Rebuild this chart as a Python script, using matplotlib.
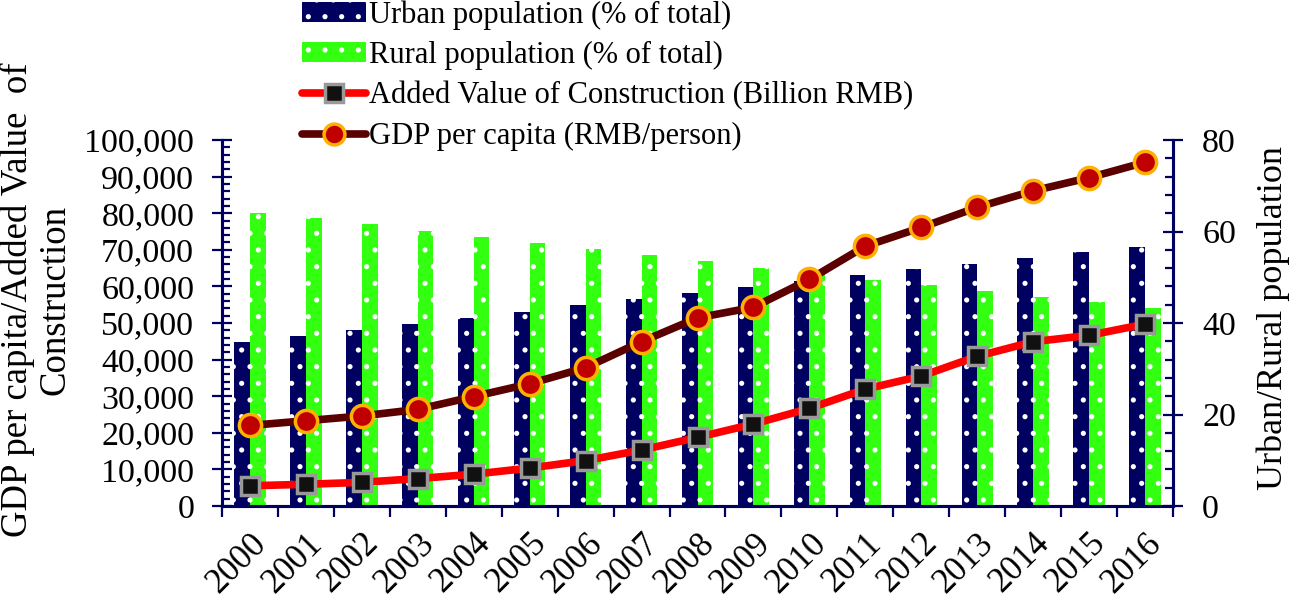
import numpy as np
import matplotlib
matplotlib.use("Agg")
import matplotlib.pyplot as plt
from matplotlib.ticker import MultipleLocator, FuncFormatter
from matplotlib.lines import Line2D
from matplotlib.patches import Patch

years = [str(y) for y in range(2000, 2017)]
urban = [35.9, 37.1, 38.4, 39.8, 41.1, 42.5, 43.9, 45.2, 46.5, 47.9,
         49.2, 50.5, 51.8, 53.0, 54.3, 55.5, 56.7]
rural = [64.1, 62.9, 61.6, 60.2, 58.9, 57.5, 56.1, 54.8, 53.5, 52.1,
         50.8, 49.5, 48.2, 47.0, 45.7, 44.5, 43.3]
construction = [5522, 5931, 6465, 7490, 8694, 10367, 12409, 15296, 18743, 22398,
                26661, 31942, 35491, 40897, 44881, 46627, 49703]
gdp_pc = [22000, 23300, 24600, 26400, 29900, 33400, 37800, 44900, 51400, 54300,
          61900, 71000, 76100, 81600, 86100, 89700, 93900]

navy = "#000060"
green = "#33ff11"
plt.rcParams["font.family"] = "Liberation Serif"
plt.rcParams["hatch.linewidth"] = 1.3

fig = plt.figure(figsize=(12.91, 5.99), dpi=100)
ax = fig.add_axes([222 / 1291, 1 - 506 / 599, 951 / 1291, 366 / 599])
ax2 = ax.twinx()

x = np.arange(len(years))
w = 0.28
ax2.bar(x - w / 2, urban, w, color=navy, edgecolor="white", linewidth=0, hatch=".")
ax2.bar(x + w / 2, rural, w, color=green, edgecolor="white", linewidth=0, hatch=".")

ax.plot(x, construction, color="#ff0000", lw=5.5, marker="s", ms=13.5,
        mfc="#111111", mec="#999999", mew=2.5, solid_capstyle="round")
ax.plot(x, gdp_pc, color="#5a0000", lw=5.5, marker="o", ms=16,
        mfc="#c00000", mec="#ffb000", mew=2.5, solid_capstyle="round")

ax.set_zorder(ax2.get_zorder() + 1)
ax.patch.set_visible(False)

ax.set_xlim(-0.5, len(years) - 0.5)
ax.set_ylim(0, 100000)
ax2.set_ylim(0, 80)

ax.yaxis.set_major_locator(MultipleLocator(10000))
ax.yaxis.set_minor_locator(MultipleLocator(2000))
ax.yaxis.set_major_formatter(FuncFormatter(lambda v, p: f"{int(v):,}"))
ax2.yaxis.set_major_locator(MultipleLocator(20))
ax2.yaxis.set_minor_locator(MultipleLocator(4))

ax.set_xticks(x)
ax.set_xticklabels(years, rotation=45, ha="right", rotation_mode="anchor", fontsize=25)
ax.set_xticks(np.arange(len(years) + 1) - 0.5, minor=True)
ax.tick_params(axis="x", which="major", length=0, pad=15)
ax.tick_params(axis="x", which="minor", direction="out", length=8, width=1.6, color=navy)
ax.tick_params(axis="y", which="major", direction="inout", length=14, width=1.6,
               color=navy, labelsize=24.5, pad=13)
ax.tick_params(axis="y", which="minor", direction="in", length=6, width=1.6, color=navy)
ax2.tick_params(axis="y", which="major", direction="inout", length=14, width=1.6,
                color=navy, labelsize=24.5, pad=14)
ax2.tick_params(axis="y", which="minor", direction="in", length=6, width=1.6, color=navy)

for a in (ax, ax2):
    a.spines["top"].set_visible(False)
    for side in ("left", "right", "bottom"):
        a.spines[side].set_color(navy)
        a.spines[side].set_linewidth(2.2)

ax.set_ylabel("GDP per capita/Added Value  of\nConstruction", fontsize=26.5,
              linespacing=1.1)
ax.yaxis.set_label_coords((72 - 222) / 951, (506 - 300) / 366)
ax2.set_ylabel("Urban/Rural population", fontsize=26)
ax2.yaxis.set_label_coords((1256 - 222) / 951, (506 - 318) / 366)

handles = [
    Patch(facecolor=navy, edgecolor="white", linewidth=0, hatch="."),
    Patch(facecolor=green, edgecolor="white", linewidth=0, hatch="."),
    Line2D([], [], color="#ff0000", lw=5.5, marker="s", ms=13, mfc="#111111",
           mec="#999999", mew=2.5, solid_capstyle="round"),
    Line2D([], [], color="#5a0000", lw=5.5, marker="o", ms=15, mfc="#c00000",
           mec="#ffb000", mew=2.5, solid_capstyle="round"),
]
labels = ["Urban population (% of total)", "Rural population (% of total)",
          "Added Value of Construction (Billion RMB)", "GDP per capita (RMB/person)"]
fig.legend(handles, labels, loc="upper left", bbox_to_anchor=(302 / 1291, 1.0),
           frameon=False, fontsize=22, handlelength=2.1, handleheight=0.62,
           handletextpad=0.1, labelspacing=0.37, borderaxespad=0, borderpad=0)

fig.savefig("out.png", dpi=100)
